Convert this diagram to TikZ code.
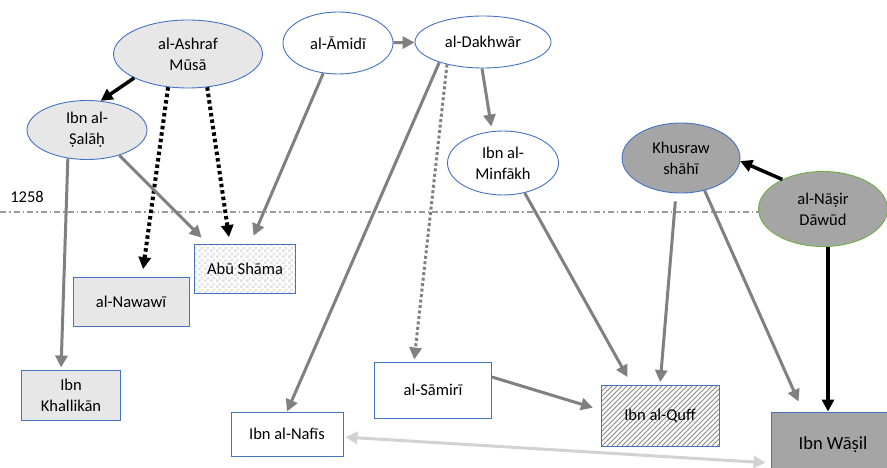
\documentclass[tikz,border=0pt]{standalone}
\usepackage{fontspec}
\setmainfont{Carlito}
\usepackage{tikz}
\usetikzlibrary{shapes.geometric,patterns,arrows.meta}

\definecolor{edgeblue}{RGB}{68,114,196}
\definecolor{edgegreen}{RGB}{112,173,71}
\definecolor{fillLight}{RGB}{231,231,231}
\definecolor{fillDark}{RGB}{165,165,165}
\definecolor{linkgray}{RGB}{128,128,128}
\definecolor{linklight}{RGB}{210,210,210}

% wider hatch and a small checker board
\pgfdeclarepatternformonly{widehatch}{\pgfqpoint{-1pt}{-1pt}}{\pgfqpoint{6pt}{6pt}}{\pgfqpoint{5pt}{5pt}}
{\pgfsetlinewidth{0.8pt}\pgfpathmoveto{\pgfqpoint{-0.1pt}{-0.1pt}}\pgfpathlineto{\pgfqpoint{5.1pt}{5.1pt}}\pgfusepath{stroke}}
\pgfdeclarepatternformonly{checker}{\pgfqpoint{0pt}{0pt}}{\pgfqpoint{6pt}{6pt}}{\pgfqpoint{6pt}{6pt}}
{\pgfpathrectangle{\pgfqpoint{0pt}{0pt}}{\pgfqpoint{3pt}{3pt}}\pgfpathrectangle{\pgfqpoint{3pt}{3pt}}{\pgfqpoint{3pt}{3pt}}\pgfusepath{fill}}

\begin{document}
\begin{tikzpicture}[x=1pt, y=-1pt,
  person/.style={ellipse, draw=edgeblue, line width=0.9pt, inner sep=0pt, align=center},
  work/.style={rectangle, draw=edgeblue, line width=0.9pt, inner sep=0pt, align=center},
  tip/.style={-{Triangle[length=12pt,width=12pt]}},
  link/.style={tip, line width=3pt, color=linkgray},
  strong/.style={tip, line width=3.5pt, color=black},
  hint/.style={tip, line width=4pt, color=black, dash pattern=on 3.5pt off 3pt},
  faint/.style={tip, line width=3pt, color=linkgray, dash pattern=on 3pt off 2.5pt}
]

  \fontsize{16.5}{21}\selectfont

  \newcommand\YLINE{212};

  \useasboundingbox (0,0) rectangle (887,468);

  % year line
  \coordinate (yl) at (0,\YLINE);
  \coordinate (yr) at (887,\YLINE);
  \draw[linkgray!80, line width=1.1pt, dash pattern=on 6pt off 3pt on 1.5pt off 3pt] (yl) -- (yr);
  \node (year) at (27,197) {1258};

  % teachers
  \node[person, fill=fillLight, minimum width=149pt, minimum height=68pt] (ashraf) at (188,54) {al-Ashraf\\Mūsā};
  \node[person, fill=fillLight, minimum width=120pt, minimum height=59pt] (salah) at (87,130) {Ibn al-\\Ṣalāḥ};
  \node[person, fill=white, minimum width=110pt, minimum height=62pt] (amidi) at (338,43) {al-Āmidī};
  \node[person, fill=white, minimum width=136pt, minimum height=52pt] (dakhwar) at (483,42) {al-Dakhwār};
  \node[person, fill=white, minimum width=111pt, minimum height=64pt] (minfakh) at (503,163) {Ibn al-\\Minfākh};
  \node[person, fill=fillDark, minimum width=118pt, minimum height=70pt] (khusraw) at (681,158) {Khusraw\\shāhī};
  \node[person, draw=edgegreen, fill=fillDark, minimum width=129pt, minimum height=75pt] (nasir) at (823,209) {al-Nāṣir\\Dāwūd};

  % students
  \node[work, preaction={fill=white}, pattern=checker, pattern color=gray!22,
    minimum width=101pt, minimum height=49pt] (abu) at (245,269) {Abū Shāma};
  \node[work, fill=fillLight, minimum width=116pt, minimum height=49pt] (nawawi) at (131,302) {al-Nawawī};
  \node[work, fill=fillLight, minimum width=99pt, minimum height=50pt] (khallikan) at (71,395) {Ibn\\Khallikān};
  \node[work, fill=white, minimum width=112pt, minimum height=44pt] (nafis) at (287,434) {Ibn al-Nafīs};
  \node[work, fill=white, minimum width=117pt, minimum height=56pt] (samiri) at (433,390) {al-Sāmirī};
  \node[work, preaction={fill=white}, pattern=widehatch, pattern color=gray!90,
    minimum width=118pt, minimum height=61pt] (quff) at (660,416) {Ibn al-Quff};
  \node[work, fill=fillDark, font=\fontsize{18.5}{22}\selectfont,
    minimum width=124pt, minimum height=66pt] (wasil) at (833,445) {Ibn Wāṣil};

  % links
  \draw[strong] (ashraf.204) -- (salah.65);
  \draw[hint, shorten >=8pt] (ashraf.239) -- ([xshift=11pt]nawawi.north);
  \draw[hint, shorten >=7pt] (ashraf.300) -- ([xshift=-15pt]abu.north);
  \draw[link, shorten >=9pt] (salah.322) -- ([xshift=-37pt]abu.north);
  \draw[link, shorten >=2pt] (salah.236) -- ([xshift=-10pt]khallikan.north);
  \draw[link, shorten >=9pt] (amidi.244) -- ([xshift=5pt]abu.north);
  \draw[link] (amidi) -- (dakhwar);
  \draw[link] (dakhwar.205) -- (nafis.north);
  \draw[faint, shorten >=2pt] (dakhwar.212) -- ([xshift=-19pt]samiri.north);
  \draw[link, shorten >=4pt] ([xshift=-1pt]dakhwar.south) -- ([xshift=-11pt]minfakh.north);
  \draw[link, shorten >=9pt] (minfakh.306) -- ([xshift=-28pt]quff.north);
  \draw[link, shorten <=8pt, shorten >=3pt] ([xshift=-5pt]khusraw.south) -- (quff.north);
  \draw[link, shorten >=11pt] (khusraw.306) -- ([xshift=-30pt]wasil.north);
  \draw[strong] (nasir.144) -- (khusraw.-3);
  \draw[strong] ([xshift=5pt]nasir.south) -- ([xshift=-5pt]wasil.north);
  \draw[link, shorten >=8pt] ([yshift=13pt]samiri.east) -- ([yshift=6pt]quff.west);
  \draw[link, linklight, {Triangle[length=12pt,width=12pt]}-{Triangle[length=12pt,width=12pt]}, shorten <=2pt, shorten >=5pt]
    ([yshift=-3pt]nafis.east) -- ([yshift=-18pt]wasil.west);

\end{tikzpicture}
\end{document}
